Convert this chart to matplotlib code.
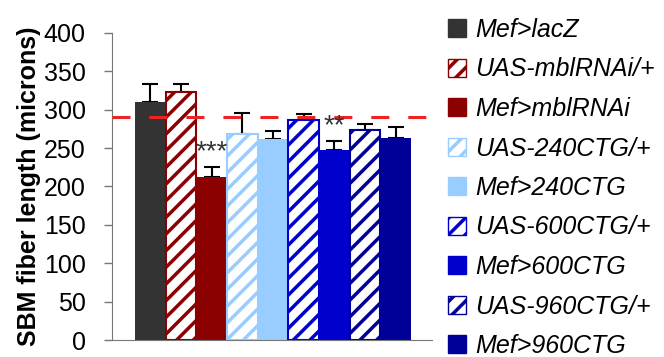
import matplotlib.pyplot as plt
from matplotlib.patches import Patch

genotypes = ["Mef>lacZ", "UAS-mblRNAi/+", "Mef>mblRNAi", "UAS-240CTG/+", "Mef>240CTG",
             "UAS-600CTG/+", "Mef>600CTG", "UAS-960CTG/+", "Mef>960CTG"]
lengths = [310, 323, 213, 268, 262, 287, 248, 273, 263]
errors = [23, 11, 12, 28, 10, 7, 11, 8, 14]
colors = ["#333333", "#8b0000", "#8b0000", "#99ccff", "#99ccff",
          "#0000cc", "#0000cc", "#000099", "#000099"]
hatched = [False, True, False, True, False, True, False, True, False]
stars = {2: "***", 6: "**"}
control_level = 290

plt.rcParams["font.family"] = ["Liberation Sans", "DejaVu Sans"]
plt.rcParams["hatch.linewidth"] = 2.5

fig = plt.figure(figsize=(6.64, 3.57), dpi=100)
ax = fig.add_axes([112 / 664, 17 / 357, 320 / 664, 307 / 357])

x = list(range(len(genotypes)))
for i in x:
    if hatched[i]:
        ax.bar(i, lengths[i], width=1.0, color="white", edgecolor=colors[i],
               hatch="//", linewidth=1.5, zorder=2)
    else:
        ax.bar(i, lengths[i], width=1.0, color=colors[i], edgecolor=colors[i],
               linewidth=0, zorder=2)

ax.errorbar(x, lengths, yerr=[[0] * len(errors), errors], fmt="none",
            ecolor="black", elinewidth=1.5, capsize=6, capthick=1.5, zorder=1)

ax.axhline(control_level, color="#ee2222", linestyle=(0, (5.9, 6.2)), linewidth=2.2, zorder=3)

for i, s in stars.items():
    ax.text(i, lengths[i] + errors[i] + 20, s, ha="center", va="center",
            fontsize=20, color="#333333")

ax.set_xlim(-1.25, 9.18)
ax.set_ylim(0, 400)
ax.set_yticks(range(0, 401, 50))
ax.set_xticks([])
ax.tick_params(axis="y", labelsize=18, length=6, pad=13, color="#777777", width=1)
ax.spines["top"].set_visible(False)
ax.spines["right"].set_visible(False)
ax.spines["left"].set_color("#777777")
ax.spines["bottom"].set_color("#777777")
ax.set_ylabel("SBM fiber length (microns)", fontsize=18, fontweight="bold", labelpad=2)

handles = []
for i in x:
    if hatched[i]:
        handles.append(Patch(facecolor="white", edgecolor=colors[i], hatch="//", linewidth=1))
    else:
        handles.append(Patch(facecolor=colors[i], edgecolor=colors[i]))
fig.legend(handles, genotypes, loc="upper left", bbox_to_anchor=(448 / 664, 1 - 18 / 357),
           frameon=False, prop={"size": 18, "style": "italic"},
           handlelength=0.72, handleheight=0.72, handletextpad=0.35, labelspacing=0.62,
           borderaxespad=0, borderpad=0)

fig.savefig("out.png", dpi=100)
